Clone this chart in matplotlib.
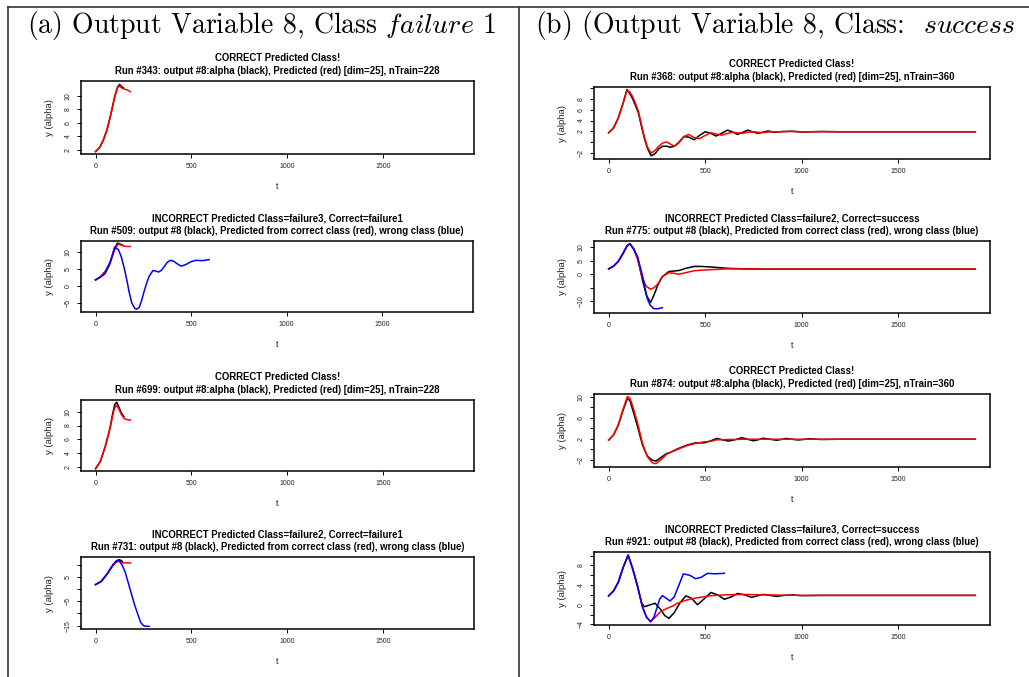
import matplotlib
matplotlib.use("Agg")
import matplotlib.pyplot as plt
from matplotlib.lines import Line2D

plt.rcParams['font.family'] = ['Liberation Sans', 'DejaVu Sans']
plt.rcParams['mathtext.fontset'] = 'cm'

# ---- dados ----
# (a1) Run #343
a1_tb = [0, 20, 40, 60, 80, 100, 115, 125, 135, 145]
a1_b = [1.75, 2.3, 3.4, 5.0, 7.3, 9.9, 11.3, 11.7, 11.4, 11.2]
a1_tr = [0, 20, 40, 60, 80, 100, 115, 125, 135, 150, 165, 182]
a1_r = [1.8, 2.3, 3.4, 5.0, 7.3, 9.8, 11.2, 11.5, 11.2, 11.0, 10.9, 10.6]

# (a2) Run #509
a2_tb = [0, 25, 50, 75, 100, 115, 130, 145]
a2_b = [1.8, 2.7, 4.2, 6.8, 11.0, 12.5, 12.2, 11.8]
a2_tr = [0, 25, 50, 75, 100, 118, 135, 150, 165, 182]
a2_r = [1.8, 2.6, 4.0, 6.6, 10.5, 12.2, 11.9, 11.6, 11.5, 11.5]
a2_tz = [0, 25, 50, 75, 100, 120, 135, 150, 165, 175, 190, 205, 214, 228, 240, 252, 265, 280, 300, 315, 330, 345, 360, 375, 392, 410, 430, 448, 470, 500, 526, 560, 595]
a2_z = [1.8, 2.6, 3.6, 6.4, 11.3, 10.6, 8.5, 5.3, 1.5, -1.5, -4.9, -6.4, -6.7, -6.2, -4.4, -2.0, 0.4, 2.8, 4.5, 4.4, 4.1, 4.6, 5.7, 6.9, 7.5, 7.2, 6.4, 5.8, 6.2, 7.1, 7.5, 7.4, 7.7]

# (a3) Run #699
a3_tb = [0, 25, 50, 75, 90, 100, 110, 120, 135, 148]
a3_b = [1.75, 2.8, 4.9, 7.6, 9.8, 11.0, 11.4, 10.8, 9.8, 9.3]
a3_tr = [0, 25, 50, 75, 90, 100, 110, 120, 135, 150, 165, 182]
a3_r = [1.75, 2.8, 4.9, 7.5, 9.5, 10.6, 10.9, 10.5, 9.6, 9.0, 8.85, 8.8]

# (a4) Run #731
a4_tb = [0, 30, 60, 90, 110, 125, 140]
a4_b = [1.85, 3.2, 6.2, 9.9, 11.7, 12.1, 11.4]
a4_tr = [0, 30, 60, 90, 110, 125, 140, 160, 182]
a4_r = [1.85, 3.2, 6.1, 9.6, 11.2, 11.5, 10.8, 10.8, 10.75]
a4_tz = [0, 30, 60, 90, 110, 122, 140, 155, 170, 190, 205, 220, 235, 250, 265, 280]
a4_z = [1.85, 3.2, 6.2, 9.9, 11.6, 11.8, 9.7, 6.9, 2.8, -2.7, -6.8, -10.2, -13.6, -15.0, -15.3, -15.3]

# (b1) Run #368
b1_t = [0, 25, 50, 75, 95, 110, 125, 140, 155, 170, 185, 200, 220, 240, 260, 280, 300, 320, 340, 360, 390, 415, 443, 470, 500, 530, 556, 585, 616, 640, 668, 695, 720, 745, 773, 800, 825, 860, 900, 950, 1000, 1100, 1200, 1400, 1600, 1900]
b1_b = [1.7, 2.6, 4.5, 7.3, 9.8, 9.0, 8.0, 6.7, 5.3, 2.9, 0.7, -1.1, -2.6, -2.2, -1.3, -0.8, -0.8, -1.0, -0.8, -0.2, 1.0, 0.9, 0.4, 1.2, 1.9, 1.6, 1.1, 1.6, 2.2, 1.9, 1.4, 1.8, 2.2, 1.9, 1.6, 1.8, 2.05, 1.8, 1.95, 2.0, 1.85, 1.95, 1.9, 1.9, 1.9, 1.9]
b1_r = [1.7, 2.6, 4.5, 7.2, 9.7, 9.3, 8.4, 7.1, 5.6, 3.2, 0.9, -0.9, -2.1, -1.6, -0.8, -0.2, 0.0, -0.4, -0.8, -0.3, 1.0, 1.4, 0.8, 0.6, 1.2, 1.7, 1.5, 1.25, 1.6, 1.8, 1.7, 1.6, 1.8, 1.9, 1.8, 1.75, 1.85, 1.9, 1.9, 1.95, 1.9, 1.9, 1.9, 1.9, 1.9, 1.9]

# (b2) Run #775
b2_t = [0, 25, 50, 75, 95, 110, 130, 150, 175, 195, 217, 235, 255, 278, 312, 340, 365, 400, 443, 480, 530, 616, 700, 800, 1000, 1400, 1900]
b2_b = [2.0, 3.0, 4.8, 7.8, 10.5, 11.3, 9.5, 6.0, -2.1, -7.7, -10.5, -7.7, -4.0, -0.9, 1.0, 1.2, 1.4, 2.2, 2.9, 2.9, 2.7, 2.2, 2.0, 1.9, 1.9, 1.9, 1.9]
b2_r = [2.0, 3.0, 4.8, 7.8, 10.5, 11.3, 9.3, 5.5, -1.5, -4.5, -5.6, -5.0, -3.6, -0.9, 0.6, 0.3, 0.0, 0.6, 1.3, 1.5, 1.7, 2.0, 2.0, 1.9, 1.9, 1.9, 1.9]
b2_tz = [0, 25, 50, 75, 95, 110, 130, 150, 175, 200, 215, 234, 255, 278]
b2_z = [2.0, 3.0, 4.8, 7.8, 10.6, 11.3, 9.3, 6.5, -0.5, -9.0, -11.5, -12.8, -12.8, -12.4]

# (b3) Run #874
b3_t = [0, 25, 50, 75, 97, 110, 125, 150, 175, 200, 225, 245, 275, 300, 321, 360, 408, 450, 495, 530, 560, 590, 620, 655, 690, 720, 750, 775, 800, 835, 870, 895, 920, 950, 980, 1010, 1040, 1100, 1200, 1400, 1600, 1900]
b3_b = [1.75, 2.7, 4.6, 7.5, 9.7, 9.3, 7.5, 4.3, 0.8, -1.3, -2.1, -2.3, -1.5, -0.85, -0.6, 0.1, 0.8, 1.2, 1.2, 1.6, 2.05, 1.8, 1.55, 1.8, 2.2, 1.9, 1.6, 1.8, 2.1, 1.9, 1.7, 1.85, 2.05, 1.9, 1.75, 1.85, 2.0, 1.85, 1.9, 1.9, 1.9, 1.9]
b3_r = [1.75, 2.7, 4.7, 7.7, 10.1, 9.8, 8.2, 5.0, 1.1, -1.4, -2.6, -2.8, -1.9, -1.0, -0.6, 0.0, 0.7, 1.1, 1.4, 1.5, 1.8, 1.8, 1.85, 1.85, 1.9, 1.9, 1.9, 1.9, 1.9, 1.9, 1.9, 1.9, 1.9, 1.9, 1.9, 1.9, 1.9, 1.9, 1.9, 1.9, 1.9, 1.9]

# (b4) Run #921
b4_tb = [0, 25, 50, 75, 101, 125, 150, 170, 185, 210, 240, 270, 290, 312, 340, 370, 400, 430, 460, 495, 530, 565, 600, 635, 668, 705, 740, 770, 800, 835, 870, 910, 950, 1000, 1100, 1200, 1400, 1900]
b4_b = [1.8, 2.8, 4.6, 7.6, 10.1, 7.3, 3.8, 0.4, -0.4, -0.1, 0.3, -1.0, -2.2, -2.8, -1.6, 0.4, 1.8, 1.3, 0.0, 1.2, 2.5, 2.0, 1.1, 1.6, 2.3, 2.0, 1.5, 1.8, 2.1, 1.9, 1.7, 1.9, 2.0, 1.85, 1.9, 1.9, 1.9, 1.9]
b4_tr = [0, 25, 50, 75, 101, 125, 150, 175, 195, 217, 240, 269, 300, 330, 356, 400, 443, 490, 530, 600, 700, 800, 900, 1000, 1900]
b4_r = [1.8, 2.8, 4.6, 7.6, 10.1, 7.2, 3.7, -0.3, -2.4, -3.4, -2.6, -1.4, -0.8, -0.3, 0.3, 0.9, 1.3, 1.6, 1.85, 2.0, 2.1, 2.0, 1.95, 1.9, 1.9]
b4_tz = [0, 25, 50, 75, 101, 125, 150, 175, 195, 217, 235, 252, 265, 278, 295, 318, 340, 360, 387, 420, 451, 480, 512, 550, 599]
b4_z = [1.8, 2.8, 4.6, 7.6, 10.1, 7.3, 3.6, -0.5, -2.5, -3.5, -2.5, -0.4, 1.2, 1.85, 1.4, 0.75, 1.6, 3.6, 6.3, 6.0, 5.3, 5.6, 6.4, 6.3, 6.4]

x_ticks = [0, 500, 1000, 1500]

W, H = 1029, 677
fig = plt.figure(figsize=(W / 100, H / 100), dpi=100)


def caixa(x0, y0, x1, y1):
    # caixa em pixeis (origem em cima)
    return [x0 / W, 1 - y1 / H, (x1 - x0) / W, (y1 - y0) / H]


def painel(pos, titulo1, titulo2, linhas, ylim, yticks, ylabels):
    ax = fig.add_axes(caixa(*pos))
    for t, y, c in linhas:
        ax.plot(t, y, color=c, lw=1.1)
    ax.set_xlim(-76, 1976)
    ax.set_ylim(*ylim)
    ax.set_xticks(x_ticks)
    ax.set_xticklabels([str(v) for v in x_ticks])
    ax.set_yticks(yticks)
    ax.set_yticklabels(ylabels, rotation=90, va='center')
    ax.tick_params(direction='out', length=3, width=0.7, labelsize=5.0,
                   pad=3.6, colors='black', labelcolor='#222222')
    for s in ax.spines.values():
        s.set_linewidth(1.1)
    ax.annotate(titulo1, xy=(0.5, 1), xycoords='axes fraction',
                xytext=(0, 16.3), textcoords='offset points',
                ha='center', va='center', fontsize=6.9, fontweight='bold')
    ax.annotate(titulo2, xy=(0.5, 1), xycoords='axes fraction',
                xytext=(0, 7.3), textcoords='offset points',
                ha='center', va='center', fontsize=6.9, fontweight='bold')
    ax.annotate('t', xy=(0.5, 0), xycoords='axes fraction',
                xytext=(0, -23.5), textcoords='offset points',
                ha='center', va='center', fontsize=6.5, color='#222222')
    ax.annotate('y (alpha)', xy=(0, 0.5), xycoords='axes fraction',
                xytext=(-23, 0), textcoords='offset points', rotation=90,
                ha='center', va='center', fontsize=6.8, color='#222222')
    return ax


K, R, B = 'black', 'red', 'blue'
txt_ok = 'CORRECT Predicted Class!'
txt_mau = 'Run #{}: output #8 (black), Predicted from correct class (red), wrong class (blue)'
txt_bom = 'Run #{}: output #8:alpha (black), Predicted (red) [dim=25], nTrain={}'

painel((81, 81, 474, 154), txt_ok, txt_bom.format(343, 228),
       [(a1_tb, a1_b, K), (a1_tr, a1_r, R)],
       (1.4, 12.2), [2, 4, 6, 8, 10], ['2', '4', '6', '8', '10'])
painel((81, 241, 473, 312), 'INCORRECT Predicted Class=failure3, Correct=failure1',
       txt_mau.format(509),
       [(a2_tb, a2_b, K), (a2_tr, a2_r, R), (a2_tz, a2_z, B)],
       (-7.5, 13.1), [-5, 0, 5, 10], ['\u22125', '0', '5', '10'])
painel((81, 400, 474, 471), txt_ok, txt_bom.format(699, 228),
       [(a3_tb, a3_b, K), (a3_tr, a3_r, R)],
       (1.42, 11.7), [2, 4, 6, 8, 10], ['2', '4', '6', '8', '10'])
painel((81, 557, 474, 629), 'INCORRECT Predicted Class=failure2, Correct=failure1',
       txt_mau.format(731),
       [(a4_tb, a4_b, K), (a4_tr, a4_r, R), (a4_tz, a4_z, B)],
       (-16.4, 13.2), [-15, -10, -5, 0, 5, 10], ['\u221215', '', '\u22125', '', '5', ''])

painel((594, 87, 990, 159), txt_ok, txt_bom.format(368, 360),
       [(b1_t, b1_b, K), (b1_t, b1_r, R)],
       (-3.19, 10.26), [-2, 0, 2, 4, 6, 8, 10], ['\u22122', '', '2', '4', '6', '8', ''])
painel((594, 241, 990, 313), 'INCORRECT Predicted Class=failure2, Correct=success',
       txt_mau.format(775),
       [(b2_t, b2_b, K), (b2_t, b2_r, R), (b2_tz, b2_z, B)],
       (-14.4, 12.35), [-10, -5, 0, 5, 10], ['\u221210', '', '0', '5', '10'])
painel((594, 394, 990, 467), txt_ok, txt_bom.format(874, 360),
       [(b3_t, b3_b, K), (b3_t, b3_r, R)],
       (-3.43, 10.58), [-2, 0, 2, 4, 6, 8, 10], ['\u22122', '', '2', '', '6', '', '10'])
painel((594, 552, 990, 625), 'INCORRECT Predicted Class=failure3, Correct=success',
       txt_mau.format(921),
       [(b4_tb, b4_b, K), (b4_tr, b4_r, R), (b4_tz, b4_z, B)],
       (-4.14, 10.75), [-4, -2, 0, 2, 4, 6, 8, 10], ['\u22124', '', '0', '', '4', '', '8', ''])

# cabecalhos (estilo LaTeX, cmr10 + italico em mathtext)
fig.text(262 / W, 1 - 25 / H, r'(a) Output Variable 8, Class $\mathit{failure}$ 1',
         family='cmr10', ha='center', va='center', fontsize=20)
fig.text(535 / W, 1 - 25 / H, r'(b) (Output Variable 8, Class:  $\mathit{success}$',
         family='cmr10', ha='left', va='center', fontsize=20)

# moldura da tabela
for xs, ys in [((8, 1029), (7, 7)), ((8, 8), (7, 677)), ((519, 519), (7, 677))]:
    fig.add_artist(Line2D([x / W for x in xs], [1 - y / H for y in ys],
                          color='#333333', lw=1.2))

fig.savefig('out.png', dpi=100)
